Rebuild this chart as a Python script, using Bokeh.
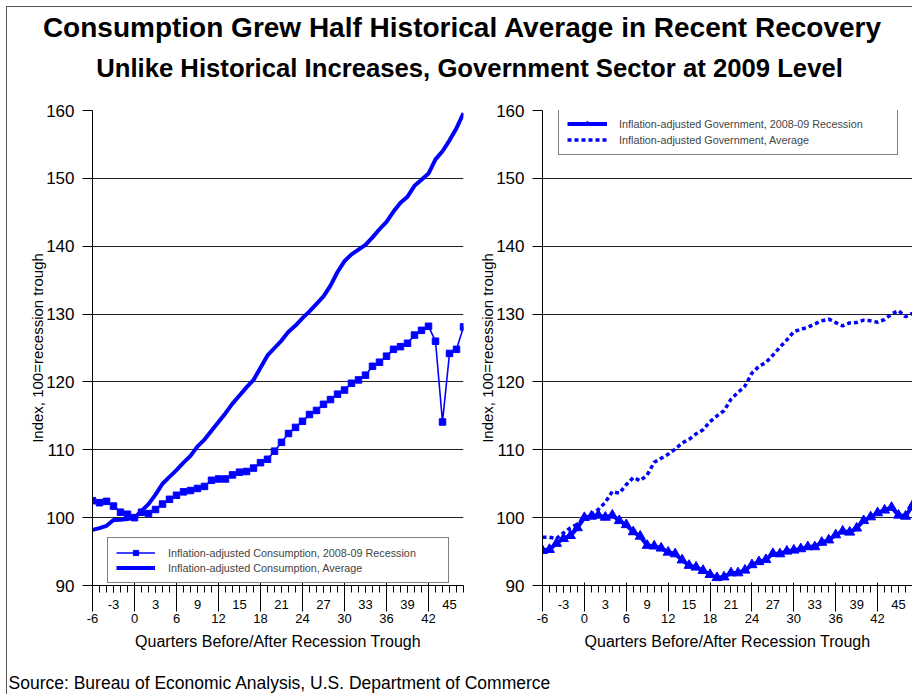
from bokeh.plotting import figure
from bokeh.models import Range1d, FixedTicker, LinearAxis, Legend, LegendItem, Label
from bokeh.layouts import column, row
from bokeh.embed import file_html
from bokeh.resources import INLINE

# ---------------- data ----------------
quarters = list(range(-6, 48))

cons_recession = [102.5, 102.2, 102.4, 101.7, 100.8, 100.5,
                  100.0, 100.8, 100.6, 101.2, 102.0, 102.7, 103.3, 103.8, 104.0, 104.3,
                  104.6, 105.5, 105.7, 105.7, 106.3, 106.7, 106.8, 107.3, 108.1, 108.6,
                  109.8, 111.1, 112.4, 113.3, 114.2, 115.2, 115.8, 116.7, 117.4, 118.2,
                  118.8, 119.8, 120.3, 121.0, 122.3, 122.9, 123.8, 124.8, 125.2, 125.7,
                  126.9, 127.6, 128.2, 126.0, 114.1, 124.2, 124.8, 128.1]

cons_average = [98.2, 98.45, 98.8, 99.65, 99.7, 99.8,
                100.0, 101.0, 102.0, 103.4, 105.0, 106.0, 107.0, 108.1, 109.1, 110.5,
                111.5, 112.8, 114.1, 115.4, 116.8, 118.0, 119.2, 120.3, 122.1, 123.9,
                125.0, 126.1, 127.4, 128.3, 129.4, 130.4, 131.5, 132.6, 134.2, 136.2,
                137.8, 138.8, 139.5, 140.2, 141.3, 142.5, 143.6, 145.1, 146.4, 147.3,
                148.9, 149.8, 150.7, 152.8, 154.0, 155.6, 157.4, 159.6]

gov_recession = [95.15, 95.3, 96.2, 96.9, 97.35, 98.5,
                 100.0, 100.2, 100.35, 100.05, 100.35, 99.55, 98.95, 97.9, 97.25, 95.9,
                 95.8, 95.5, 94.9, 94.65, 93.75, 92.95, 92.7, 92.2, 91.6, 91.15,
                 91.25, 91.85, 91.85, 92.25, 93.05, 93.5, 93.8, 94.7, 94.65, 95.05,
                 95.2, 95.4, 95.7, 95.7, 96.35, 96.7, 97.45, 98.0, 97.85, 98.45,
                 99.55, 100.1, 100.7, 101.1, 101.5, 100.35, 100.2, 101.8]

gov_average = [97.1, 97.1, 96.9, 97.75, 98.5, 99.05,
               99.7, 100.55, 101.2, 102.25, 103.85, 103.6, 104.85, 105.9, 105.45, 106.3,
               108.15, 108.75, 109.35, 110.1, 111.0, 111.55, 112.35, 112.95, 114.15, 115.0,
               115.75, 117.45, 118.45, 119.4, 121.3, 122.3, 122.85, 123.95, 125.1, 126.2,
               127.4, 127.75, 128.05, 128.55, 129.0, 129.25, 128.75, 128.25, 128.7, 128.75,
               129.1, 129.0, 128.8, 129.2, 130.0, 130.5, 129.6, 130.1]

y_ticks = [90, 100, 110, 120, 130, 140, 150, 160]
x_ticks_upper = list(range(-3, 48, 6))
x_ticks_lower = list(range(-6, 48, 6))

title_text = "Consumption Grew Half Historical Average in Recent Recovery"
subtitle_text = "Unlike Historical Increases, Government Sector at 2009 Level"
source_text = "Source: Bureau of Economic Analysis, U.S. Department of Commerce"
x_title = "Quarters Before/After Recession Trough"
y_title = "Index, 100=recession trough"

lbl_cons_rec = "Inflation-adjusted Consumption, 2008-09 Recession"
lbl_cons_avg = "Inflation-adjusted Consumption, Average"
lbl_gov_rec = "Inflation-adjusted Government, 2008-09 Recession"
lbl_gov_avg = "Inflation-adjusted Government, Average"

# ---------------- style ----------------
BLUE = "#0000ff"
FONT = "Liberation Sans"
CHART_H = 567
HDR_H = 91
FTR_H = 29


def make_chart(width, min_left, min_right):
    p = figure(width=width, height=CHART_H, x_range=Range1d(-6, 47), y_range=Range1d(90, 160),
               x_axis_location=None, y_axis_location="left", toolbar_location=None,
               output_backend="svg", min_border_left=min_left, min_border_right=min_right,
               min_border_top=12, min_border_bottom=80)
    p.outline_line_color = None
    p.xgrid.visible = False
    p.background_fill_color = "white"
    p.border_fill_color = "white"

    yax = p.yaxis[0]
    yax.ticker = FixedTicker(ticks=y_ticks)
    yax.major_tick_out = 10
    yax.major_tick_in = 0
    yax.minor_tick_out = 0
    yax.minor_tick_in = 0
    yax.axis_line_color = "black"
    yax.major_tick_line_color = "black"
    yax.major_label_text_font = FONT
    yax.major_label_text_font_size = "17px"
    yax.major_label_text_color = "black"
    yax.major_label_standoff = 8
    yax.axis_label = y_title
    yax.axis_label_text_font = FONT
    yax.axis_label_text_font_size = "15px"
    yax.axis_label_text_font_style = "normal"
    yax.axis_label_text_color = "black"
    yax.axis_label_standoff = -3

    p.ygrid.grid_line_color = "#222222"
    p.ygrid.grid_line_width = 1

    ax1 = LinearAxis(ticker=FixedTicker(ticks=x_ticks_upper, minor_ticks=quarters),
                     major_tick_out=7, major_tick_in=0, minor_tick_out=7, minor_tick_in=0,
                     major_label_standoff=7, major_label_text_font=FONT,
                     major_label_text_font_size="13px", major_label_text_color="black",
                     major_label_overrides={-3: "-3"},
                     axis_line_color="black", major_tick_line_color="black",
                     minor_tick_line_color="black")
    ax2 = LinearAxis(ticker=FixedTicker(ticks=x_ticks_lower), axis_line_color=None,
                     major_tick_in=29, major_tick_out=0, minor_tick_line_color=None,
                     major_tick_line_color="black",
                     major_label_standoff=2, major_label_text_font=FONT,
                     major_label_text_font_size="13px", major_label_text_color="black",
                     major_label_overrides={-6: "-6"},
                     axis_label=x_title, axis_label_text_font=FONT,
                     axis_label_text_font_size="16px", axis_label_text_font_style="normal",
                     axis_label_text_color="black", axis_label_standoff=7)
    p.add_layout(ax1, "below")
    p.add_layout(ax2, "below")
    return p


# ---------------- left chart ----------------
left = make_chart(466, 85, 10)
r_cavg = left.line(quarters, cons_average, line_color=BLUE, line_width=4)
r_crec_l = left.line(quarters, cons_recession, line_color=BLUE, line_width=1.6)
r_crec_m = left.scatter(quarters, cons_recession, marker="square", size=6.5,
                        fill_color=BLUE, line_color=BLUE)
leg_l = Legend(items=[LegendItem(label=lbl_cons_rec, renderers=[r_crec_l, r_crec_m]),
                      LegendItem(label=lbl_cons_avg, renderers=[r_cavg])],
               location=(15, 2), padding=8, spacing=2, label_standoff=13,
               glyph_width=39, glyph_height=13, label_height=13, label_width=272,
               border_line_color="black", border_line_width=1, background_fill_alpha=1,
               label_text_font=FONT, label_text_font_size="10.8px", margin=0)
left.add_layout(leg_l)

# ---------------- right chart ----------------
right = make_chart(439, 69, 0)
r_gavg = right.line(quarters, gov_average, line_color=BLUE, line_width=3.5, line_dash="4 3")
r_grec_l = right.line(quarters, gov_recession, line_color=BLUE, line_width=4)
r_grec_m = right.scatter(quarters, gov_recession, marker="triangle", size=10,
                         fill_color=BLUE, line_color=BLUE)
leg_r = Legend(items=[LegendItem(label=lbl_gov_rec, renderers=[r_grec_l, r_grec_m]),
                      LegendItem(label=lbl_gov_avg, renderers=[r_gavg])],
               location=(16, 475 - 45), padding=8, spacing=3, label_standoff=12,
               glyph_width=40, glyph_height=13, label_height=13, label_width=270,
               border_line_color="black", border_line_width=1, background_fill_alpha=1,
               label_text_font=FONT, label_text_font_size="10.8px", margin=0)
right.add_layout(leg_r)

# ---------------- header & footer ----------------
def blank(width, height):
    f = figure(width=width, height=height, x_range=Range1d(0, width), y_range=Range1d(0, height),
               toolbar_location=None, output_backend="svg", min_border=0,
               x_axis_location=None, y_axis_location=None)
    f.xgrid.visible = False
    f.ygrid.visible = False
    f.outline_line_color = None
    return f

hdr = blank(905, HDR_H)
hdr.add_layout(Label(x=455, y=HDR_H - 19.5, text=title_text, text_font=FONT,
                     text_font_size="28px", text_font_style="bold", text_align="center",
                     text_baseline="middle", text_color="black"))
hdr.add_layout(Label(x=462, y=HDR_H - 60.5, text=subtitle_text, text_font=FONT,
                     text_font_size="25.7px", text_font_style="bold", text_align="center",
                     text_baseline="middle", text_color="black"))

ftr = blank(905, FTR_H)
ftr.add_layout(Label(x=1, y=FTR_H - 17, text=source_text, text_font=FONT,
                     text_font_size="17.5px", text_align="left", text_baseline="middle",
                     text_color="black"))

layout = column(hdr, row(left, right), ftr, margin=(6, 0, 0, 6),
                styles={"border-left": "1px solid #555555", "border-top": "1px solid #555555"})

open("out.html", "w").write(file_html(layout, INLINE))
